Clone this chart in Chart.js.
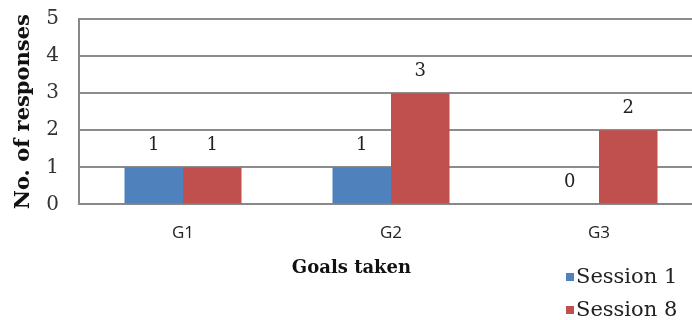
<!DOCTYPE html>
<html>
<head>
<meta charset="utf-8">
<script src="https://cdn.jsdelivr.net/npm/chart.js@4"></script>
<style>
  html, body { margin: 0; padding: 0; background: #fff; }
  #wrap { width: 692px; height: 320px; overflow: hidden; position: relative; }
  #wrap canvas { position: absolute; left: 0; top: 0; }
</style>
</head>
<body>
<div id="wrap"><canvas id="goalsChart" width="710" height="320"></canvas></div>
<script>
const goals = ['G1', 'G2', 'G3'];
const session1 = [1, 1, 0];
const session8 = [1, 3, 2];
const seriesNames = ['Session 1', 'Session 8'];
const yTicks = [0, 1, 2, 3, 4, 5];

const serif = '"DejaVu Serif", "Liberation Serif", serif';

// value above each bar
const valueLabels = {
    id: 'valueLabels',
    afterDatasetsDraw(chart) {
        const ctx = chart.ctx;
        ctx.save();
        ctx.font = '18px ' + serif;
        ctx.fillStyle = '#222';
        ctx.textAlign = 'center';
        ctx.textBaseline = 'middle';
        chart.data.datasets.forEach((ds, i) => {
            chart.getDatasetMeta(i).data.forEach((bar, j) => {
                ctx.fillText(String(ds.data[j]), bar.x, bar.y - 22);
            });
        });
        ctx.restore();
    }
};

// legend stacked in the lower right corner
const cornerLegend = {
    id: 'cornerLegend',
    afterDraw(chart) {
        const ctx = chart.ctx;
        ctx.save();
        ctx.font = '21px ' + serif;
        ctx.textBaseline = 'middle';
        chart.data.datasets.forEach((ds, i) => {
            const y = 277 + i * 33;
            ctx.fillStyle = ds.backgroundColor;
            ctx.fillRect(566, y - 4, 8, 8);
            ctx.fillStyle = '#222';
            ctx.fillText(ds.label, 576, y + 1);
        });
        ctx.restore();
    }
};

new Chart(document.getElementById('goalsChart'), {
    type: 'bar',
    data: {
        labels: goals,
        datasets: [
            { label: seriesNames[0], data: session1, backgroundColor: '#4F81BD' },
            { label: seriesNames[1], data: session8, backgroundColor: '#C0504D' }
        ]
    },
    options: {
        responsive: false,
        animation: false,
        layout: { padding: { top: 0, right: 7, left: 0, bottom: 0 } },
        datasets: { bar: { categoryPercentage: 0.5625, barPercentage: 1 } },
        plugins: {
            legend: { display: false },
            tooltip: { enabled: false },
            title: {
                display: true,
                position: 'bottom',
                text: 'Goals taken',
                color: '#111',
                font: { family: serif, size: 18, weight: 'bold' },
                padding: { top: 13, bottom: 41 }
            }
        },
        scales: {
            x: {
                grid: { display: false, drawTicks: false },
                border: { display: true, color: '#888', width: 2 },
                ticks: {
                    color: '#222',
                    padding: 19,
                    font: { family: '"Open Sans", sans-serif', size: 17 }
                },
                afterFit(scale) { scale.height = 40; }
            },
            y: {
                min: 0,
                max: 5,
                afterBuildTicks(scale) {
                    scale.ticks = yTicks.map(v => ({ value: v }));
                },
                grid: { color: '#8c8c8c', lineWidth: 2, drawTicks: false },
                border: { display: true, color: '#888', width: 2 },
                ticks: {
                    color: '#333',
                    padding: 20,
                    font: { family: serif, size: 20 }
                },
                title: {
                    display: true,
                    text: 'No. of responses',
                    color: '#111',
                    font: { family: serif, size: 21, weight: 'bold' },
                    padding: { top: 11, bottom: 8 }
                },
                afterFit(scale) {
                    scale.width = 79;
                    scale.paddingTop = 19;
                    scale.paddingBottom = 0;
                }
            }
        }
    },
    plugins: [valueLabels, cornerLegend]
});
</script>
</body>
</html>
